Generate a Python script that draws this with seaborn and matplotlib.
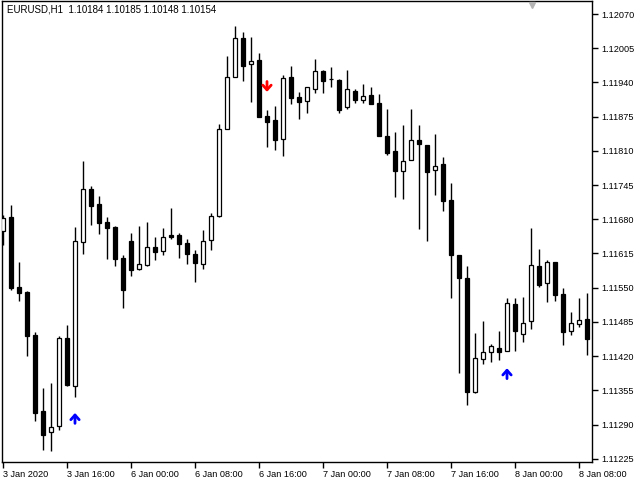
import numpy as np
import pandas as pd
import matplotlib
matplotlib.use("Agg")
import matplotlib.pyplot as plt
import seaborn as sns

# EURUSD H1 bars (oldest first)
opens = [
    1.11658, 1.11684, 1.11551, 1.11542, 1.11460, 1.11316, 1.11276, 1.11287, 1.11454, 1.11363,
    1.11637, 1.11738, 1.11709, 1.11675, 1.11665, 1.11606, 1.11639, 1.11586, 1.11593, 1.11627,
    1.11620, 1.11650, 1.11650, 1.11635, 1.11614, 1.11595, 1.11641, 1.11686, 1.11852, 1.11950,
    1.12024, 1.11975, 1.11983, 1.11876, 1.11869, 1.11833, 1.11950, 1.11912, 1.11905, 1.11928,
    1.11962, 1.11947, 1.11945, 1.11893, 1.11924, 1.11907, 1.11916, 1.11901, 1.11838, 1.11810,
    1.11772, 1.11793, 1.11831, 1.11821, 1.11774, 1.11785, 1.11717, 1.11612, 1.11568, 1.11352,
    1.11415, 1.11428, 1.11435, 1.11430, 1.11519, 1.11462, 1.11487, 1.11591, 1.11559, 1.11599,
    1.11538, 1.11468, 1.11481, 1.11491]
highs = [
    1.11688, 1.11707, 1.11599, 1.11544, 1.11466, 1.11359, 1.11369, 1.11458, 1.11479, 1.11665,
    1.11791, 1.11743, 1.11724, 1.11684, 1.11667, 1.11612, 1.11654, 1.11667, 1.11675, 1.11646,
    1.11663, 1.11701, 1.11654, 1.11643, 1.11622, 1.11660, 1.11692, 1.11861, 1.11990, 1.12047,
    1.12036, 1.12026, 1.11996, 1.11888, 1.11895, 1.11954, 1.11971, 1.11922, 1.11931, 1.11985,
    1.11964, 1.11969, 1.11947, 1.11964, 1.11928, 1.11937, 1.11931, 1.11918, 1.11890, 1.11846,
    1.11859, 1.11890, 1.11859, 1.11821, 1.11842, 1.11798, 1.11749, 1.11612, 1.11591, 1.11464,
    1.11487, 1.11443, 1.11468, 1.11530, 1.11530, 1.11532, 1.11663, 1.11624, 1.11603, 1.11599,
    1.11549, 1.11504, 1.11530, 1.11540]
lows = [
    1.11631, 1.11546, 1.11525, 1.11420, 1.11297, 1.11242, 1.11240, 1.11280, 1.11363, 1.11342,
    1.11614, 1.11669, 1.11652, 1.11605, 1.11591, 1.11511, 1.11572, 1.11584, 1.11591, 1.11603,
    1.11612, 1.11643, 1.11606, 1.11595, 1.11561, 1.11586, 1.11622, 1.11684, 1.11852, 1.11950,
    1.11943, 1.11903, 1.11874, 1.11817, 1.11812, 1.11800, 1.11899, 1.11871, 1.11882, 1.11920,
    1.11920, 1.11931, 1.11882, 1.11890, 1.11901, 1.11901, 1.11899, 1.11838, 1.11802, 1.11722,
    1.11719, 1.11793, 1.11662, 1.11639, 1.11726, 1.11696, 1.11530, 1.11388, 1.11327, 1.11350,
    1.11405, 1.11409, 1.11413, 1.11430, 1.11430, 1.11447, 1.11472, 1.11551, 1.11523, 1.11525,
    1.11441, 1.11460, 1.11475, 1.11422]
closes = [
    1.11682, 1.11549, 1.11540, 1.11458, 1.11312, 1.11270, 1.11285, 1.11454, 1.11365, 1.11639,
    1.11738, 1.11705, 1.11673, 1.11663, 1.11605, 1.11546, 1.11584, 1.11595, 1.11627, 1.11618,
    1.11646, 1.11646, 1.11633, 1.11614, 1.11597, 1.11639, 1.11686, 1.11852, 1.11950, 1.12024,
    1.11971, 1.11981, 1.11874, 1.11865, 1.11831, 1.11948, 1.11910, 1.11903, 1.11931, 1.11962,
    1.11943, 1.11946, 1.11888, 1.11928, 1.11907, 1.11914, 1.11899, 1.11838, 1.11806, 1.11772,
    1.11791, 1.11831, 1.11823, 1.11770, 1.11781, 1.11715, 1.11612, 1.11568, 1.11352, 1.11416,
    1.11428, 1.11439, 1.11428, 1.11521, 1.11468, 1.11483, 1.11593, 1.11555, 1.11599, 1.11536,
    1.11466, 1.11483, 1.11489, 1.11453]

# signal arrows: bar index and the price at the arrow tip
buy_bars = [9, 63]
buy_prices = [1.11312, 1.11397]
sell_bars = [33]
sell_prices = [1.11922]

time_labels = ["3 Jan 2020", "3 Jan 16:00", "6 Jan 00:00", "6 Jan 08:00", "6 Jan 16:00",
               "7 Jan 00:00", "7 Jan 08:00", "7 Jan 16:00", "8 Jan 00:00", "8 Jan 08:00"]
price_ticks = [1.11225, 1.11290, 1.11355, 1.11420, 1.11485, 1.11550, 1.11615,
               1.11680, 1.11745, 1.11810, 1.11875, 1.11940, 1.12005, 1.12070]
header = "EURUSD,H1  1.10184 1.10185 1.10148 1.10154"

df = pd.DataFrame({"open": opens, "high": highs, "low": lows, "close": closes})
df["bar"] = np.arange(len(df))
df["up"] = df["close"] >= df["open"]

sns.set_theme(style="white")
plt.rcParams["font.family"] = ["Liberation Sans", "DejaVu Sans"]

fig = plt.figure(figsize=(6.4, 4.8), dpi=100)
ax = fig.add_axes([2 / 640, 18 / 480, 590 / 640, 461 / 480])
ax.set_facecolor("white")

# wicks
ax.vlines(df["bar"], df["low"], df["high"], color="black", linewidth=1.0, zorder=2)

# bodies
body_bottom = df[["open", "close"]].min(axis=1)
body_height = (df["close"] - df["open"]).abs().clip(lower=0.000012)
fills = np.where(df["up"], "white", "black")
ax.bar(df["bar"], body_height, bottom=body_bottom, width=0.62,
       color=fills, edgecolor="black", linewidth=0.9, zorder=3)

# signal arrows (shaft + open chevron head, ~10 px tall)
arrow_style = "->, head_length=0.28, head_width=0.25"
for b, p in zip(buy_bars, buy_prices):
    ax.annotate("", xy=(b, p), xytext=(0, -7.5), textcoords="offset points",
                annotation_clip=False,
                arrowprops=dict(arrowstyle=arrow_style, color="#0000ff", lw=2,
                                shrinkA=0, shrinkB=0))
for b, p in zip(sell_bars, sell_prices):
    ax.annotate("", xy=(b, p), xytext=(0, 7.5), textcoords="offset points",
                annotation_clip=False,
                arrowprops=dict(arrowstyle=arrow_style, color="#ff0000", lw=2,
                                shrinkA=0, shrinkB=0))

# scroll marker at the top
ax.plot([66.1], [0.992], marker="v", ms=5, color="#b4b4b4",
        transform=ax.get_xaxis_transform(), clip_on=False, zorder=5)

ax.set_xlim(-0.125, 73.625)
ax.set_ylim(1.112188, 1.120947)

ax.yaxis.tick_right()
ax.set_yticks(price_ticks)
ax.set_yticklabels([f"{v:.5f}" for v in price_ticks])
ax.set_xticks(np.arange(0, len(df), 8))
ax.set_xticklabels(time_labels, ha="left")
ax.tick_params(axis="both", direction="out", length=4, width=1, colors="black",
               labelsize=6.6, bottom=True, right=True, left=False)
ax.tick_params(axis="y", pad=3)
ax.tick_params(axis="x", pad=2)

for s in ax.spines.values():
    s.set_color("black")
    s.set_linewidth(1.0)

fig.text(7 / 640, 1 - 10 / 480, header, fontsize=7.0, va="center", ha="left", color="black")

fig.savefig("out.png", dpi=100)
